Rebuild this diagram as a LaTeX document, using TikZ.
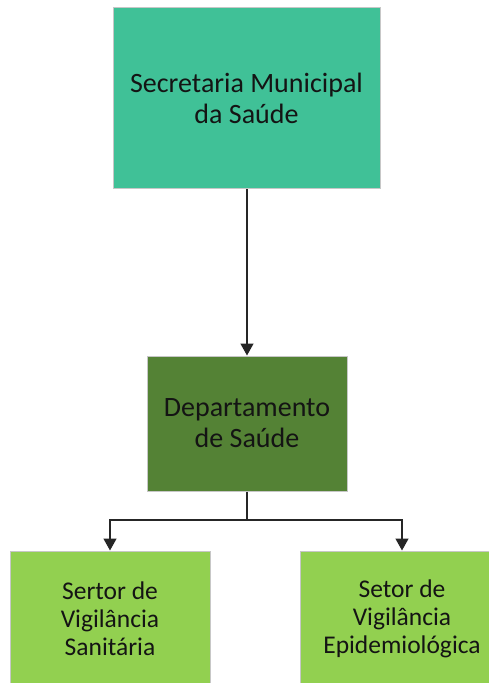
\documentclass[tikz,border=0pt]{standalone}
\usepackage{fontspec}
\setmainfont{Carlito}
\usetikzlibrary{arrows.meta}
\definecolor{topc}{HTML}{40C197}
\definecolor{depc}{HTML}{548235}
\definecolor{botc}{HTML}{92D050}
\definecolor{txt}{HTML}{141414}
\tikzset{
  box/.style={draw=black!22, line width=1pt, inner sep=0pt, align=center, text=txt},
  conn/.style={line width=1.4pt, draw=black!85},
  tip/.style={-{Triangle[width=13pt,length=12pt]}}
}
\begin{document}
\begin{tikzpicture}[x=1pt,y=-1pt]
\useasboundingbox (0,0) rectangle (489,683);
\clip (0,0) rectangle (489,683);
\node[box, fill=topc, minimum width=267pt, minimum height=181pt, font=\fontsize{28}{31}\selectfont] (sec) at (246.5,98) {Secretaria Municipal\\da Saúde};
\node[box, fill=depc, minimum width=200pt, minimum height=135pt, font=\fontsize{28}{31}\selectfont] (dep) at (247,423.5) {Departamento\\de Saúde};
\node[box, fill=botc, minimum width=200pt, minimum height=136pt, font=\fontsize{25.5}{28}\selectfont] (san) at (110,619) {Sertor de\\Vigilância\\Sanitária};
\node[box, fill=botc, minimum width=204pt, minimum height=136pt, font=\fontsize{25.5}{28}\selectfont] (epi) at (402,619) {Setor de\\Vigilância\\Epidemiológica};
\coordinate (j) at (247,520);
\draw[conn, tip] (sec.south -| dep.north) -- (dep.north);
\draw[conn] (dep.south) -- (j);
\draw[conn, tip] (j) -| (san.north);
\draw[conn, tip] (j) -| (epi.north);
\end{tikzpicture}
\end{document}
